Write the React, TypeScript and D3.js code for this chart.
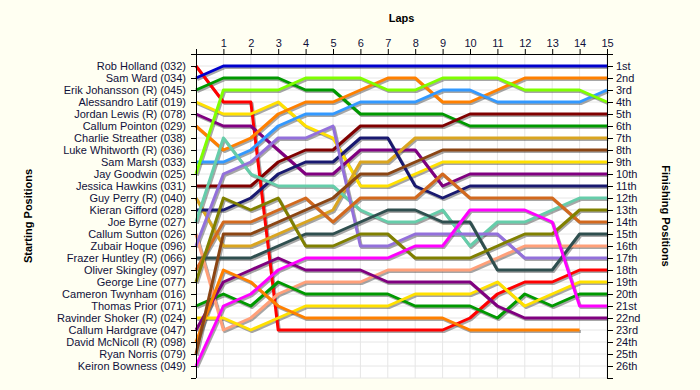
import React from "react";
import * as d3 from "d3";

const startNames = [
  "Rob Holland (032)",
  "Sam Ward (034)",
  "Erik Johansson (R) (045)",
  "Alessandro Latif (019)",
  "Jordan Lewis (R) (078)",
  "Callum Pointon (029)",
  "Charlie Streather (038)",
  "Luke Whitworth (R) (036)",
  "Sam Marsh (033)",
  "Jay Goodwin (025)",
  "Jessica Hawkins (031)",
  "Guy Perry (R) (040)",
  "Kieran Gifford (028)",
  "Joe Byrne (027)",
  "Callum Sutton (026)",
  "Zubair Hoque (096)",
  "Frazer Huntley (R) (066)",
  "Oliver Skingley (097)",
  "George Line (077)",
  "Cameron Twynham (016)",
  "Thomas Prior (071)",
  "Ravinder Shoker (R) (024)",
  "Callum Hardgrave (047)",
  "David McNicoll (R) (098)",
  "Ryan Norris (079)",
  "Keiron Bowness (049)",
];

const finishLabels = [
  "1st", "2nd", "3rd", "4th", "5th", "6th", "7th", "8th", "9th", "10th",
  "11th", "12th", "13th", "14th", "15th", "16th", "17th", "18th", "19th", "20th",
  "21st", "22nd", "23rd", "24th", "25th", "26th",
];

const laps = [0, 1, 2, 3, 4, 5, 6, 7, 8, 9, 10, 11, 12, 13, 14, 15];

// positions by lap (lap 0 = grid position)
const robHolland = [1, 4, 4, 23, 23, 23, 23, 23, 23, 23, 22, 20, 19, 19, 18, 18];
const samWard = [2, 1, 1, 1, 1, 1, 1, 1, 1, 1, 1, 1, 1, 1, 1, 1];
const erikJohansson = [3, 2, 2, 2, 3, 3, 5, 5, 5, 5, 6, 6, 6, 6, 6, 6];
const alessandroLatif = [4, 5, 5, 4, 6, 7, 11, 11, 10, 9, 9, 9, 9, 9, 9, 9];
const jordanLewis = [5, 6, 6, 8, 10, 10, 8, 8, 8, 11, 10, 10, 10, 10, 10, 10];
const callumPointon = [6, 8, 7, 5, 4, 4, 3, 2, 2, 4, 4, 3, 2, 2, 2, 2];
const samMarsh = [9, 9, 8, 6, 5, 5, 4, 4, 4, 3, 3, 4, 4, 4, 4, 3];
const jayGoodwin = [10, 3, 3, 3, 2, 2, 2, 3, 3, 2, 2, 2, 3, 3, 3, 4];
const jessicaHawkins = [11, 11, 11, 9, 8, 8, 6, 6, 6, 6, 5, 5, 5, 5, 5, 5];
const guyPerry = [12, 16, 16, 15, 14, 13, 9, 9, 7, 7, 7, 7, 7, 7, 7, 7];
const kieranGifford = [13, 13, 12, 10, 9, 9, 7, 7, 11, 12, 11, 11, 11, 11, 11, 11];
const joeByrne = [14, 7, 10, 11, 11, 11, 13, 14, 14, 13, 16, 14, 14, 13, 12, 12];
const callumSutton = [15, 23, 22, 20, 19, 19, 19, 18, 18, 18, 18, 17, 16, 16, 16, 16];
const zubairHoque = [16, 10, 9, 7, 7, 6, 16, 16, 15, 15, 15, 15, 17, 17, 17, 17];
const frazerHuntley = [17, 17, 17, 16, 15, 15, 14, 13, 13, 14, 14, 18, 18, 18, 15, 15];
const oliverSkingley = [18, 14, 14, 13, 12, 14, 12, 12, 12, 10, 12, 12, 12, 12, 14, 14];
const georgeLine = [19, 12, 13, 12, 16, 16, 15, 15, 17, 17, 17, 16, 15, 15, 13, 13];
const thomasPrior = [21, 20, 21, 19, 20, 20, 20, 20, 21, 21, 21, 22, 20, 21, 20, 20];
const ravinderShoker = [22, 22, 23, 22, 21, 21, 21, 21, 20, 20, 20, 19, 21, 20, 19, 19];
const callumHardgrave = [23, 19, 18, 17, 18, 18, 18, 19, 19, 19, 19, 21, 22, 22, 22, 22];
const davidMcNicoll = [24, 18, 19, 21, 22, 22, 22, 22, 22, 22, 23, 23, 23, 23, 23];
const ryanNorris = [25, 15, 15, 14, 13, 12, 10, 10, 9, 8, 8, 8, 8, 8, 8, 8];
const keironBowness = [26, 21, 20, 18, 17, 17, 17, 17, 16, 16, 13, 13, 13, 14, 21, 21];

const racerSeries = [
  robHolland, samWard, erikJohansson, alessandroLatif, jordanLewis, callumPointon,
  samMarsh, jayGoodwin, jessicaHawkins, guyPerry, kieranGifford, joeByrne,
  callumSutton, zubairHoque, frazerHuntley, oliverSkingley, georgeLine,
  thomasPrior, ravinderShoker, callumHardgrave, davidMcNicoll, ryanNorris, keironBowness,
];

const racerColors = [
  "#FF0000", "#0000CD", "#009900", "#FFE000", "#800080", "#FF8000",
  "#3399FF", "#7FFF00", "#800000", "#DAA520", "#191970", "#66CDAA",
  "#FFA07A", "#9370DB", "#2F4F4F", "#D2691E", "#808000",
  "#009900", "#FFE000", "#800080", "#FF8000", "#8B4513", "#FF00FF",
];

const W = 700;
const H = 390;
const left = 196;
const right = 607;
const top = 54;
const bottom = 378;

export default function App() {
  const x = d3.scaleLinear().domain([0, 15]).range([left, right]);
  const y = d3.scaleLinear().domain([0, 27]).range([top, bottom]);
  const line = d3
    .line<number>()
    .x((_, i) => x(laps[i]))
    .y((d) => y(d));
  const posTicks = d3.range(0, 28);
  const font = "'Liberation Sans', Arial, sans-serif";
  const textColor = "#10103a";

  return (
    <svg
      width={W}
      height={H}
      style={{ position: "absolute", left: 0, top: 0, background: "#FFFFF2" }}
      fontFamily={font}
    >
      <rect x={0} y={0} width={W} height={H} fill="#FFFFF2" />
      <rect x={left} y={top} width={right - left} height={bottom - top} fill="#FFFFFF" />
      {/* grid */}
      {laps.slice(1).map((l) => (
        <line key={"gv" + l} x1={x(l)} x2={x(l)} y1={top} y2={bottom} stroke="#E6E6E6" strokeWidth={1} />
      ))}
      {posTicks.slice(1).map((p) => (
        <line key={"gh" + p} x1={left} x2={right} y1={y(p)} y2={y(p)} stroke="#E6E6E6" strokeWidth={1} />
      ))}
      {/* shadows */}
      <g transform="translate(1.3,1.6)">
        {racerSeries.map((s, i) => (
          <path key={"s" + i} d={line(s) || ""} fill="none" stroke="rgba(60,60,60,0.45)" strokeWidth={3} strokeLinejoin="round" />
        ))}
      </g>
      {racerSeries.map((s, i) => (
        <path key={"l" + i} d={line(s) || ""} fill="none" stroke={racerColors[i]} strokeWidth={3} strokeLinejoin="round" />
      ))}
      {/* axes */}
      <line x1={left} x2={right} y1={top + 0.5} y2={top + 0.5} stroke="#000" strokeWidth={1} />
      <line x1={left + 0.5} x2={left + 0.5} y1={top} y2={bottom} stroke="#000" strokeWidth={1} />
      <line x1={right + 0.5} x2={right + 0.5} y1={top} y2={bottom} stroke="#000" strokeWidth={1} />
      {laps.map((l) => (
        <g key={"tx" + l}>
          <line x1={x(l) + 0.5} x2={x(l) + 0.5} y1={top - 5} y2={top} stroke="#000" />
          {l > 0 && (
            <text x={x(l) + 0.5} y={top - 7} textAnchor="middle" fontSize={11} fill={textColor}>
              {l}
            </text>
          )}
        </g>
      ))}
      {posTicks.map((p) => (
        <g key={"ty" + p}>
          <line x1={left - 5} x2={left} y1={y(p) + 0.5} y2={y(p) + 0.5} stroke="#000" />
          <line x1={right} x2={right + 6} y1={y(p) + 0.5} y2={y(p) + 0.5} stroke="#000" />
          {p >= 1 && p <= 26 && (
            <>
              <text x={left - 10} y={y(p) + 4} textAnchor="end" fontSize={11} fill={textColor}>
                {startNames[p - 1]}
              </text>
              <text x={right + 9} y={y(p) + 4} textAnchor="start" fontSize={11} fill={textColor}>
                {finishLabels[p - 1]}
              </text>
            </>
          )}
        </g>
      ))}
      <text x={(left + right) / 2} y={22} textAnchor="middle" fontSize={11} fontWeight="bold" fill="#000">
        Laps
      </text>
      <text
        transform={`translate(32,${(top + bottom) / 2}) rotate(-90)`}
        textAnchor="middle"
        fontSize={11}
        fontWeight="bold"
        fill="#000"
      >
        Starting Positions
      </text>
      <text
        transform={`translate(662,${(top + bottom) / 2}) rotate(90)`}
        textAnchor="middle"
        fontSize={11}
        fontWeight="bold"
        fill="#000"
      >
        Finishing Positions
      </text>
    </svg>
  );
}
